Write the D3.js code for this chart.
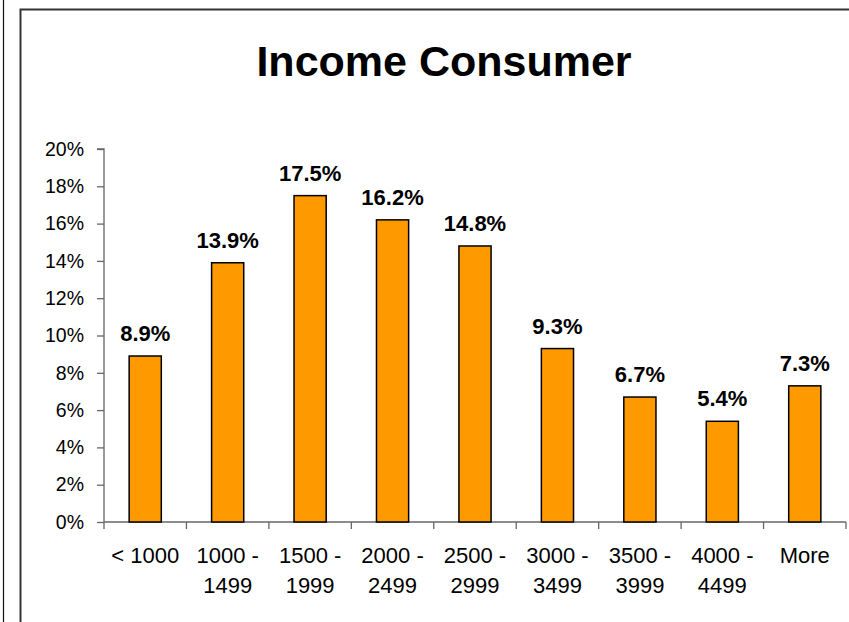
<!DOCTYPE html>
<html>
<head>
<meta charset="utf-8">
<script src="https://cdn.jsdelivr.net/npm/d3@7"></script>
<style>
  body { margin: 0; background: #fff; }
  svg { display: block; font-family: "Liberation Sans", Arial, sans-serif; }
</style>
</head>
<body>
<div id="chart"></div>
<script>
// chart data
var categories = [["< 1000"], ["1000 -", "1499"], ["1500 -", "1999"], ["2000 -", "2499"],
    ["2500 -", "2999"], ["3000 -", "3499"], ["3500 -", "3999"], ["4000 -", "4499"], ["More"]];
var shares = [0.089, 0.139, 0.175, 0.162, 0.148, 0.093, 0.067, 0.054, 0.073];
var yTicks = [0, 0.02, 0.04, 0.06, 0.08, 0.10, 0.12, 0.14, 0.16, 0.18, 0.20];
var title = "Income Consumer";

var width = 849, height = 622;
var margin = {top: 149, right: 3, bottom: 100, left: 104};

var svg = d3.select("#chart").append("svg")
    .attr("width", width)
    .attr("height", height);

// outer lines of the sheet / chart area
svg.append("line")
    .attr("x1", 3.5).attr("x2", 3.5).attr("y1", 0).attr("y2", height)
    .style("stroke", "#111").style("stroke-width", 1.2);
svg.append("path")
    .attr("d", "M20.5," + height + "V9.5H" + width)
    .style("fill", "none").style("stroke", "#333").style("stroke-width", 2);

svg.append("text")
    .attr("x", 444)
    .attr("y", 76)
    .attr("text-anchor", "middle")
    .style("font-size", "43px")
    .style("font-weight", "bold")
    .text(title);

var x = d3.scaleBand()
    .domain(d3.range(shares.length))
    .range([margin.left, width - margin.right])
    .paddingInner(0.61)
    .paddingOuter(0.305);

var y = d3.scaleLinear()
    .domain([0, 0.2])
    .range([height - margin.bottom, margin.top]);

// y axis
var yAxis = svg.append("g")
    .attr("transform", "translate(" + margin.left + ",0)")
    .call(d3.axisLeft(y).tickValues(yTicks).tickSize(7).tickPadding(13)
        .tickFormat(function(d) { return Math.round(d * 100) + "%"; }));
yAxis.selectAll("path, line").style("stroke", "#666").style("stroke-width", 1.3);
yAxis.select(".domain").attr("d", "M0," + y(0) + "V" + y(0.2) + "H-7");
yAxis.selectAll("text")
    .style("font-size", "19.5px")
    .style("fill", "#000")
    .style("font-family", "Liberation Sans, Arial, sans-serif");

// x axis with ticks at category boundaries
var step = x.step();
var xg = svg.append("g");
xg.append("line")
    .attr("x1", margin.left).attr("x2", width - margin.right)
    .attr("y1", y(0)).attr("y2", y(0))
    .style("stroke", "#666").style("stroke-width", 1.3);
xg.selectAll(".tick")
    .data(d3.range(shares.length + 1))
    .enter().append("line")
    .attr("x1", function(d) { return margin.left + d * step; })
    .attr("x2", function(d) { return margin.left + d * step; })
    .attr("y1", y(0)).attr("y2", y(0) + 7)
    .style("stroke", "#666").style("stroke-width", 1.3);

var labels = xg.selectAll(".cat")
    .data(categories).enter()
    .append("text")
    .attr("text-anchor", "middle")
    .style("font-size", "22px")
    .attr("transform", function(d, i) {
        return "translate(" + (x(i) + x.bandwidth() / 2) + "," + (y(0) + 41) + ")";
    });
labels.selectAll("tspan")
    .data(function(d) { return d; }).enter()
    .append("tspan")
    .attr("x", 0)
    .attr("y", function(d, i) { return i * 30; })
    .text(function(d) { return d; });

// bars
svg.selectAll(".bar")
    .data(shares).enter()
    .append("rect")
    .attr("class", "bar")
    .attr("x", function(d, i) { return x(i); })
    .attr("y", function(d) { return y(d); })
    .attr("width", x.bandwidth())
    .attr("height", function(d) { return y(0) - y(d); })
    .style("fill", "#FF9900")
    .style("stroke", "#000")
    .style("stroke-width", 1.5);

// value labels
svg.selectAll(".val")
    .data(shares).enter()
    .append("text")
    .attr("x", function(d, i) { return x(i) + x.bandwidth() / 2; })
    .attr("y", function(d) { return y(d) - 15; })
    .attr("text-anchor", "middle")
    .style("font-size", "22px")
    .style("font-weight", "bold")
    .text(function(d) { return (d * 100).toFixed(1) + "%"; });
</script>
</body>
</html>
